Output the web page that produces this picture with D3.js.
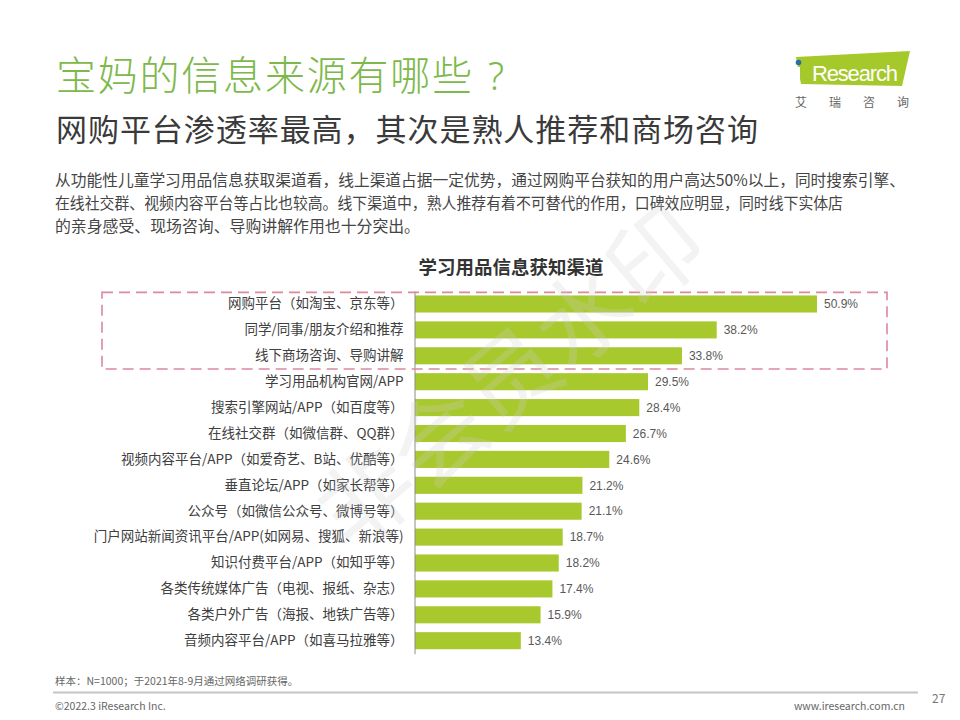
<!DOCTYPE html>
<html><head><meta charset="utf-8">
<script src="https://cdn.jsdelivr.net/npm/d3@7"></script>
<style>
html,body{margin:0;padding:0;background:#fff;}
svg{display:block;font-family:"Noto Sans CJK SC","Noto Sans",sans-serif;}
</style></head>
<body><svg id="c" width="960" height="720"></svg>
<script>
const categories = [
  "网购平台（如淘宝、京东等）",
  "同学/同事/朋友介绍和推荐",
  "线下商场咨询、导购讲解",
  "学习用品机构官网/APP",
  "搜索引擎网站/APP（如百度等）",
  "在线社交群（如微信群、QQ群）",
  "视频内容平台/APP（如爱奇艺、B站、优酷等）",
  "垂直论坛/APP（如家长帮等）",
  "公众号（如微信公众号、微博号等）",
  "门户网站新闻资讯平台/APP(如网易、搜狐、新浪等)",
  "知识付费平台/APP（如知乎等）",
  "各类传统媒体广告（电视、报纸、杂志）",
  "各类户外广告（海报、地铁广告等）",
  "音频内容平台/APP（如喜马拉雅等）"
];
const values = [50.9, 38.2, 33.8, 29.5, 28.4, 26.7, 24.6, 21.2, 21.1, 18.7, 18.2, 17.4, 15.9, 13.4];
const highlighted = categories.slice(0, 3);

const titleMain = "宝妈的信息来源有哪些";
const titleMark = "？";
const subtitle = "网购平台渗透率最高，其次是熟人推荐和商场咨询";
const paragraph = [
  "从功能性儿童学习用品信息获取渠道看，线上渠道占据一定优势，通过网购平台获知的用户高达50%以上，同时搜索引擎、",
  "在线社交群、视频内容平台等占比也较高。线下渠道中，熟人推荐有着不可替代的作用，口碑效应明显，同时线下实体店",
  "的亲身感受、现场咨询、导购讲解作用也十分突出。"
];
const chartTitle = "学习用品信息获知渠道";
const note = "样本：N=1000；于2021年8-9月通过网络调研获得。";
const copyright = "©2022.3 iResearch Inc.";
const website = "www.iresearch.com.cn";
const pageNo = "27";
const watermark = "非会员水印";

const svg = d3.select("#c");

// Header
svg.append("text").attr("x", 56).attr("y", 90).attr("fill", "#7cb94a")
  .attr("font-size", 40).attr("font-weight", 300).attr("textLength", 416)
  .attr("lengthAdjust", "spacing").text(titleMain);
svg.append("text").attr("x", 488).attr("y", 90).attr("fill", "#7cb94a")
  .attr("font-size", 38).attr("font-weight", 300).attr("font-family", "\"Noto Sans\", sans-serif").text("?");
svg.append("text").attr("x", 56).attr("y", 141).attr("fill", "#3a3a3a")
  .attr("font-size", 31).attr("font-weight", 400).attr("textLength", 702)
  .attr("lengthAdjust", "spacing").text(subtitle);
const pw = [850, 788, 365];
paragraph.forEach((t, i) => {
  svg.append("text").attr("x", 55).attr("y", 186 + i * 23).attr("fill", "#454545")
    .attr("font-size", 15.6).attr("textLength", pw[i]).attr("lengthAdjust", "spacingAndGlyphs").text(t);
});

// Logo
const logo = svg.append("g");
logo.append("path").attr("d", "M796,57 L910,51 L902,86 L801,84 Z").attr("fill", "#a5c82b");
logo.append("rect").attr("x", 797).attr("y", 67).attr("width", 3).attr("height", 14).attr("fill", "#fff");
logo.append("circle").attr("cx", 798.5).attr("cy", 62.5).attr("r", 2.8).attr("fill", "#2a6ea6");
logo.append("text").attr("x", 812).attr("y", 81).attr("fill", "#fff").attr("font-family", "Arial, Liberation Sans, sans-serif")
  .attr("font-size", 22).attr("textLength", 86).text("Research");
logo.append("text").attr("x", 795).attr("y", 107).attr("fill", "#666").attr("font-size", 12)
  .attr("letter-spacing", 22).text("艾瑞咨询");

// Chart
const x = d3.scaleLinear().domain([0, 50.9]).range([415, 817]);
const y = d3.scaleBand().domain(categories).range([291.05, 653.65]).paddingInner(0.34).paddingOuter(0.17);

svg.append("text").attr("x", 511).attr("y", 274).attr("text-anchor", "middle").attr("fill", "#333")
  .attr("font-size", 18.5).attr("font-weight", 700).text(chartTitle);

svg.append("g").selectAll("rect").data(values).join("rect")
  .attr("x", x(0)).attr("y", (d, i) => y(categories[i]))
  .attr("width", d => x(d) - x(0)).attr("height", y.bandwidth())
  .attr("fill", "#a8c92d");

svg.append("g").selectAll("text").data(values).join("text")
  .attr("x", d => x(d) + 7).attr("y", (d, i) => y(categories[i]) + y.bandwidth() / 2)
  .attr("dy", "0.35em").attr("fill", "#595959").attr("font-size", 12)
  .attr("font-family", "Arial, Liberation Sans, sans-serif")
  .text(d => d.toFixed(1) + "%");

const ax = svg.append("g").attr("transform", "translate(414.5,0)")
  .call(d3.axisLeft(y).tickSize(0).tickPadding(11));
ax.select(".domain").attr("stroke", "#8c8c8c").attr("stroke-width", 1);
ax.selectAll("text").attr("font-size", 13.5).attr("fill", "#404040")
  .attr("font-family", "\"Noto Sans CJK SC\", sans-serif");

// Highlight box
const bTop = y(highlighted[0]) - y.step() * 0.12;
const bBot = y(highlighted[highlighted.length - 1]) + y.bandwidth() + y.step() * 0.18;
svg.append("rect").attr("x", 102).attr("y", bTop).attr("width", 785).attr("height", bBot - bTop)
  .attr("fill", "none").attr("stroke", "#dc889e").attr("stroke-width", 1.6).attr("stroke-dasharray", "11,6");

// Watermark
svg.append("text").attr("transform", "translate(512,378) rotate(-40)")
  .attr("text-anchor", "middle").attr("dy", "0.35em").attr("font-size", 94)
  .attr("fill", "#cfcfcf").attr("fill-opacity", 0.25).text(watermark);

// Footer
svg.append("text").attr("x", 55).attr("y", 685).attr("fill", "#666").attr("font-size", 10.5).text(note);
svg.append("line").attr("x1", 53).attr("x2", 918).attr("y1", 692.5).attr("y2", 692.5)
  .attr("stroke", "#c4c4c4").attr("stroke-width", 2);
svg.append("text").attr("x", 55).attr("y", 710).attr("fill", "#666").attr("font-size", 10.5).text(copyright);
svg.append("text").attr("x", 905).attr("y", 710).attr("text-anchor", "end").attr("fill", "#666").attr("font-size", 10.5).text(website);
svg.append("text").attr("x", 932).attr("y", 703).attr("fill", "#777").attr("font-size", 12).text(pageNo);
</script></body></html>
